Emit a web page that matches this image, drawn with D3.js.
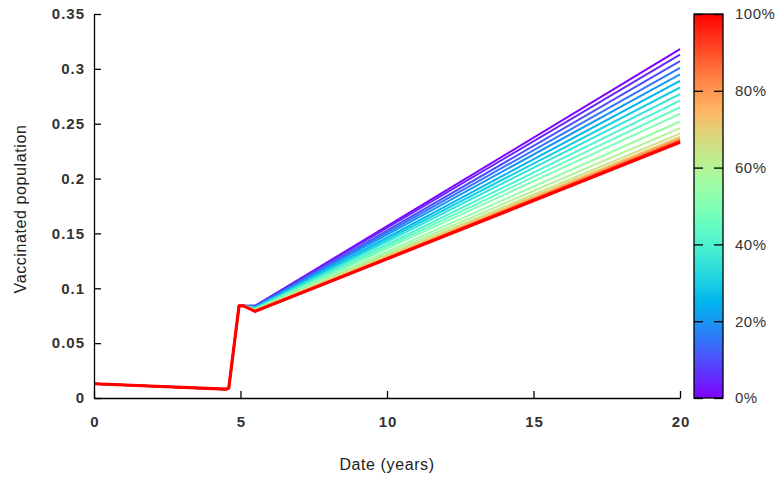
<!DOCTYPE html>
<html>
<head>
	<script src='https://d3js.org/d3.v7.min.js'></script>
	<style type="text/css">
		body { margin: 0; background: #fff; }
		.tick text { font-family: 'Liberation Sans', Arial, sans-serif; font-size: 15px; font-weight: bold; fill: #333; letter-spacing: 1px; }
		.domain, .tick line { stroke: #000; stroke-width: 1.3; }
		.title { font-family: 'Liberation Sans', Arial, sans-serif; font-size: 16px; fill: #222; letter-spacing: 0.6px; }
	</style>
</head>
<body>
	<script type="text/javascript">
		// vaccination share of each run (%)
		var shares = [0, 5, 10, 15, 20, 25, 30, 35, 40, 45, 50, 55, 60, 65, 70, 75, 80, 85, 90, 95, 100];
		// common time points (years)
		var times = [0, 4.5, 4.6, 4.95, 5.1, 5.5, 20];
		// values shared by all runs before the dip
		var startVals = [0.013, 0.008, 0.009, 0.084, 0.084];
		// value at the dip (t = 5.5) per run
		var dipVals = [0.084, 0.084, 0.083, 0.083, 0.083, 0.082, 0.082, 0.082, 0.081, 0.081, 0.081,
			0.080, 0.080, 0.080, 0.080, 0.079, 0.079, 0.079, 0.079, 0.079, 0.079];
		// value at t = 20 per run
		var endVals = [0.318, 0.313, 0.307, 0.301, 0.295, 0.289, 0.283, 0.277, 0.271, 0.265, 0.259,
			0.252, 0.246, 0.241, 0.238, 0.237, 0.236, 0.235, 0.234, 0.234, 0.233];
		var xTicks = [0, 5, 10, 15, 20];
		var yTicks = [0, 0.05, 0.1, 0.15, 0.2, 0.25, 0.3, 0.35];
		var barTicks = [0, 20, 40, 60, 80, 100];

		var margin = { left: 94, top: 14 };
		var dim = { w: 586, h: 384 };

		var svg = d3.select('body')
			.append('svg')
				.attr('width', 782)
				.attr('height', 479);

		var g = svg.append('g')
			.attr('transform', 'translate(' + margin.left + ',' + margin.top + ')');

		var x = d3.scaleLinear().domain([0, 20]).range([0, dim.w]),
			y = d3.scaleLinear().domain([0, 0.35]).range([dim.h, 0]);

		// gnuplot rainbow palette (rgbformulae 33,13,10)
		function palette(t) {
			var r = Math.min(1, Math.abs(2 * t - 0.5)),
				gg = Math.sin(Math.PI * t),
				b = Math.cos(Math.PI / 2 * t);
			return d3.rgb(r * 255, Math.max(0, gg) * 255, Math.max(0, b) * 255).toString();
		}
		var color = d3.scaleLinear().domain([0, 100]).range([0, 1]);

		var series = shares.map(function(s, i) {
			var vals = startVals.concat([dipVals[i], endVals[i]]);
			return { share: s, pts: times.map(function(t, j) { return [t, vals[j]]; }) };
		});

		var line = d3.line()
			.x(function(d) { return x(d[0]); })
			.y(function(d) { return y(d[1]); });

		g.selectAll('.run')
			.data(series).enter()
			.append('path')
				.attr('class', 'run')
				.attr('d', function(d) { return line(d.pts); })
				.attr('fill', 'none')
				.attr('stroke', function(d) { return palette(color(d.share)); })
				.attr('stroke-width', function(d) { return d.share === 100 ? 3.2 : 2; })
				.attr('stroke-linejoin', 'round');

		/** Axes **/
		var xAxis = g.append('g')
			.attr('transform', 'translate(0,' + dim.h + ')')
			.call(d3.axisBottom(x).tickValues(xTicks).tickSizeInner(-7).tickSizeOuter(0).tickPadding(18));
		xAxis.selectAll('.tick text').attr('dx', '0.5px');

		g.append('g')
			.call(d3.axisLeft(y).tickValues(yTicks).tickFormat(d3.format('')).tickSizeInner(-7).tickSizeOuter(0).tickPadding(9));

		svg.append('text')
			.attr('class', 'title')
			.attr('x', margin.left + x(10))
			.attr('y', 470)
			.attr('text-anchor', 'middle')
			.text('Date (years)');

		svg.append('text')
			.attr('class', 'title')
			.attr('transform', 'translate(26,' + (margin.top + dim.h / 2 + 3) + ') rotate(-90)')
			.attr('text-anchor', 'middle')
			.text('Vaccinated population');

		/** Colour bar **/
		var bar = { x: 694, w: 29 };
		var grad = svg.append('defs').append('linearGradient')
			.attr('id', 'grad')
			.attr('x1', 0).attr('y1', 1).attr('x2', 0).attr('y2', 0);
		d3.range(0, 1.001, 0.05).forEach(function(t) {
			grad.append('stop').attr('offset', t).attr('stop-color', palette(t));
		});

		var yBar = d3.scaleLinear().domain([0, 100]).range([margin.top + dim.h, margin.top]);

		svg.append('rect')
			.attr('x', bar.x)
			.attr('y', yBar(100))
			.attr('width', bar.w)
			.attr('height', yBar(0) - yBar(100))
			.attr('fill', 'url(#grad)')
			.attr('stroke', '#000')
			.attr('stroke-width', 1.3);

		svg.append('g')
			.attr('transform', 'translate(' + (bar.x + bar.w) + ',0)')
			.call(d3.axisRight(yBar).tickValues(barTicks).tickFormat(function(d) { return d + '%'; })
				.tickSizeInner(-9).tickSizeOuter(0).tickPadding(12))
			.call(function(a) {
				a.select('.domain').remove();
				a.selectAll('.tick text').style('font-weight', 'normal').style('letter-spacing', '0.5px');
			});

		svg.append('g')
			.attr('transform', 'translate(' + bar.x + ',0)')
			.call(d3.axisLeft(yBar).tickValues(barTicks).tickFormat('').tickSizeInner(-9).tickSizeOuter(0))
			.call(function(a) { a.select('.domain').remove(); });
	</script>
</body>
</html>
